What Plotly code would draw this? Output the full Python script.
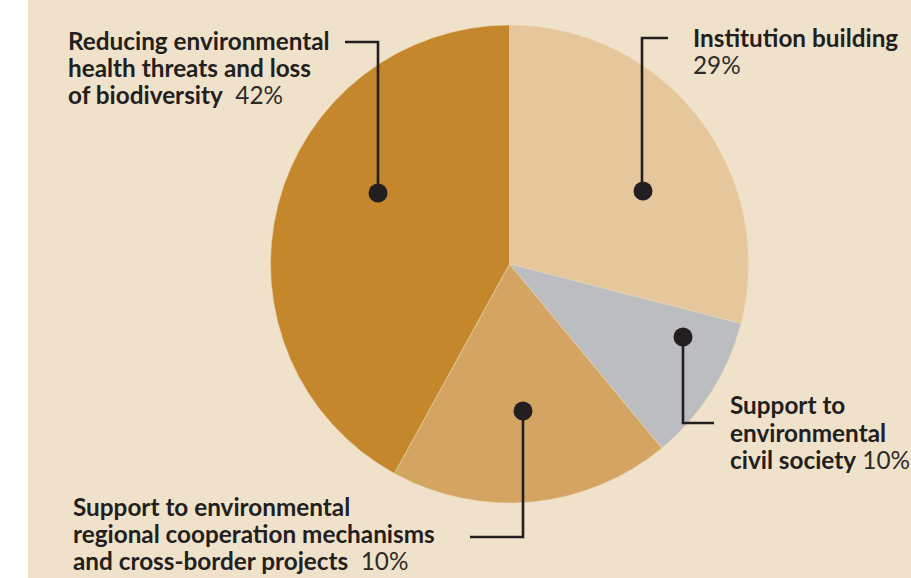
import plotly.graph_objects as go

# ---- data ----
categories = [
    "Institution building",
    "Support to environmental civil society",
    "Support to environmental regional cooperation mechanisms and cross-border projects",
    "Reducing environmental health threats and loss of biodiversity",
]
values = [29, 10, 19, 42]
colors = ["#E6C79C", "#BCBDC1", "#D4A562", "#C4872C"]

# label lines: (bold lines, percent text shown in the picture)
label_institution = (["Institution building"], "29%")
label_civil = (["Support to", "environmental", "civil society"], "10%")
label_regional = (["Support to environmental", "regional cooperation mechanisms",
                   "and cross-border projects"], "10%")
label_reducing = (["Reducing environmental", "health threats and loss",
                   "of biodiversity"], "42%")

W, H = 911, 578
BG = "#F0E2CA"
INK = "#231F20"
FONT = "Lato"
FS = 24.3


def px(x):
    return x / W


def py(y):
    return 1 - y / H


fig = go.Figure(go.Pie(
    labels=categories,
    values=values,
    sort=False,
    direction="clockwise",
    rotation=0,
    marker=dict(colors=colors, line=dict(color="#EAD6B4", width=0.6)),
    textinfo="none",
    hoverinfo="label+percent",
    showlegend=False,
    domain=dict(x=[px(270.5), px(748.5)], y=[py(503), py(25)]),
))

shapes = [
    # white strip at left
    dict(type="rect", xref="paper", yref="paper", x0=0, x1=px(28), y0=0, y1=1,
         fillcolor="white", line=dict(width=0), layer="below"),
]

# leader lines (pixel paths) and dots
leaders = [
    [(668, 38), (642, 38), (642, 191)],
    [(345, 42), (378, 42), (378, 193)],
    [(683, 337), (683, 423), (714, 423)],
    [(523, 411), (523, 537), (470, 537)],
]
dots = [(643, 191), (378, 193), (683, 337), (523, 411)]
for pts in leaders:
    path = "M " + " L ".join(f"{px(x)},{py(y)}" for x, y in pts)
    shapes.append(dict(type="path", xref="paper", yref="paper", path=path,
                       line=dict(color=INK, width=2.6), layer="above"))
R = 9.5
for x, y in dots:
    shapes.append(dict(type="circle", xref="paper", yref="paper",
                       x0=px(x - R), x1=px(x + R), y0=py(y + R), y1=py(y - R),
                       fillcolor=INK, line=dict(width=0), layer="above"))

annotations = []


def add_label(label, x_left, baselines, pct_newline=False, gap="  "):
    lines, pct = label
    n = len(lines)
    for i, line in enumerate(lines):
        txt = f"<b>{line}</b>"
        if i == n - 1 and not pct_newline:
            txt += f"{gap}<span style='color:#2e2a2b'>{pct}</span>"
        annotations.append(dict(
            x=px(x_left), y=py(baselines[i] - 0.35 * FS), xref="paper", yref="paper",
            text=txt, showarrow=False, xanchor="left", yanchor="middle",
            font=dict(family=FONT, size=FS, color=INK), borderpad=0,
        ))
    if pct_newline:
        annotations.append(dict(
            x=px(x_left), y=py(baselines[n] - 0.35 * FS), xref="paper", yref="paper",
            text=f"<span style='color:#2e2a2b'>{pct}</span>", showarrow=False,
            xanchor="left", yanchor="middle",
            font=dict(family=FONT, size=FS, color=INK), borderpad=0,
        ))


add_label(label_reducing, 67, [49, 76, 103])
add_label(label_institution, 692, [46, 73], pct_newline=True)
add_label(label_civil, 729, [413, 441, 468], gap=" ")
add_label(label_regional, 72, [515, 542, 569])

fig.update_layout(
    width=W, height=H,
    margin=dict(l=0, r=0, t=0, b=0),
    paper_bgcolor=BG,
    plot_bgcolor=BG,
    shapes=shapes,
    annotations=annotations,
)

fig.write_html("out.html",
               config={"displayModeBar": False},
               post_script="document.body.style.margin='0';document.body.style.overflow='hidden';")
